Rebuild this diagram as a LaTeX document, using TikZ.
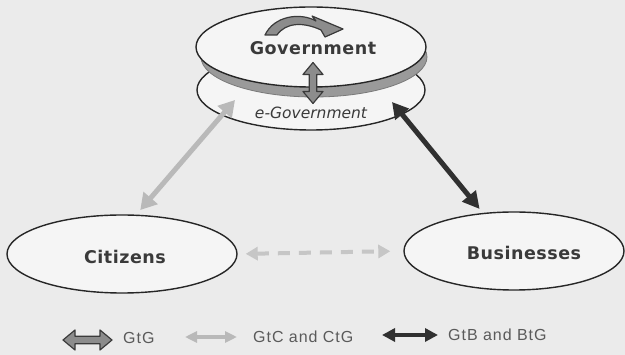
\documentclass[tikz,border=0pt]{standalone}
\usepackage{fontspec}
\setmainfont{DejaVu Sans}
\newfontfamily\nodefont[LetterSpace=3]{DejaVu Sans}
\newfontfamily\legendfont[LetterSpace=6]{Liberation Sans}
\usetikzlibrary{shapes.geometric,arrows.meta}

\definecolor{bg}{HTML}{EBEBEB}
\definecolor{diskfill}{HTML}{F5F5F5}
\definecolor{rim}{HTML}{262626}
\definecolor{band}{HTML}{9A9A9A}
\definecolor{bandline}{HTML}{7A7A7A}
\definecolor{gtgfill}{HTML}{8C8C8C}
\definecolor{gtgline}{HTML}{3A3A3A}
\definecolor{citline}{HTML}{B9B9B9}
\definecolor{peerline}{HTML}{C6C6C6}
\definecolor{busline}{HTML}{303030}
\definecolor{labeltext}{HTML}{3A3A3A}
\definecolor{legendtext}{HTML}{5A5A5A}

\tikzset{
  disk/.style={ellipse, draw=rim, line width=1.4pt, fill=diskfill, inner sep=0pt},
  actor/.style={inner sep=0pt, text=labeltext, font=\nodefont\bfseries\fontsize{17.5}{20}\selectfont},
  egovlabel/.style={inner sep=0pt, text=labeltext, font=\itshape\fontsize{15.5}{18}\selectfont},
  legend/.style={inner sep=0pt, anchor=west, text=legendtext, font=\legendfont\fontsize{16}{18}\selectfont},
  gtgstyle/.style={fill=gtgfill, draw=gtgline, line width=1.2pt, line join=round},
  citlink/.style={draw=citline, line width=5pt,
    {Triangle[length=16pt,width=18pt]}-{Triangle[length=16pt,width=18pt]}},
  buslink/.style={draw=busline, line width=5pt,
    {Triangle[length=16pt,width=17pt]}-{Triangle[length=17pt,width=17pt]}},
  peerlink/.style={draw=peerline, line width=4pt, dash pattern=on 12pt off 9pt,
    {Triangle[length=12pt,width=13pt]}-{Triangle[length=12pt,width=13pt]}},
  citlegend/.style={draw=citline, line width=4pt,
    {Triangle[length=12pt,width=11pt]}-{Triangle[length=12pt,width=11pt]}},
  buslegend/.style={draw=busline, line width=4.5pt,
    {Triangle[length=13pt,width=13pt]}-{Triangle[length=13pt,width=13pt]}},
  % fat outlined double arrow; the argument is half its length
  pics/gtgarrow/.style={code={
    \path[gtgstyle] (-#1,0) -- (-#1+12,-10) -- (-#1+12,-3.8) -- (#1-12,-3.8)
      -- (#1-12,-10) -- (#1,0) -- (#1-12,10) -- (#1-12,3.8)
      -- (-#1+12,3.8) -- (-#1+12,10) -- cycle;}}
}

\begin{document}
\begin{tikzpicture}[x=1pt,y=-1pt]
  \useasboundingbox (0,0) rectangle (625,355);
  \fill[bg] (0,0) rectangle (625,355);

  % lower layer: e-Government
  \node[disk, minimum width=228pt, minimum height=80pt] (egov) at (311,90) {};
  \node[egovlabel] (egovtext) at (311,113) {e-Government};

  % rim of the upper disk
  \filldraw[fill=band, draw=bandline, line width=0.8pt] (314,57) ellipse [x radius=113, y radius=40];

  % upper layer: Government
  \node[disk, minimum width=230pt, minimum height=80pt] (gov) at (311,47) {};
  \node[actor] (govtext) at (313,48) {Government};

  % curved arrow on top of the Government disk
  \path[gtgstyle] (265,35) .. controls (274,16) and (300,12) .. (316,21)
    -- (312,16) -- (343,29) -- (325,37) -- (321,30)
    .. controls (304,22) and (286,22) .. (277,35) -- cycle;

  % vertical link between the two layers
  \pic at (313,83) [rotate=90] {gtgarrow=20.5};

  % citizens and businesses
  \node[disk, minimum width=230pt, minimum height=78pt] (cit) at (122,254) {};
  \node[actor] (cittext) at (125,257) {Citizens};
  \node[disk, minimum width=220pt, minimum height=78pt] (bus) at (514,251) {};
  \node[actor] (bustext) at (524,253) {Businesses};

  % connectors
  \coordinate (egovL) at (235,100);
  \coordinate (egovR) at (392,102);
  \draw[citlink, shorten >=6pt] (egovL) -- (cit.70);
  \draw[buslink, shorten >=5pt] (egovR) -- (bus);
  \draw[peerlink, shorten <=8pt, shorten >=13pt] (cit.east) -- (bus.west);

  % legend
  \pic at (87.5,340) {gtgarrow=24.5};
  \node[legend] (lgtg) at (123,338) {GtG};
  \coordinate (lcA) at (185,337);
  \coordinate (lcB) at (237,337);
  \draw[citlegend] (lcA) -- (lcB);
  \node[legend] (lgtc) at (253,337) {GtC and CtG};
  \coordinate (lbA) at (382,335);
  \coordinate (lbB) at (438,335);
  \draw[buslegend] (lbA) -- (lbB);
  \node[legend] (lgtb) at (448,335) {GtB and BtG};
\end{tikzpicture}
\end{document}
